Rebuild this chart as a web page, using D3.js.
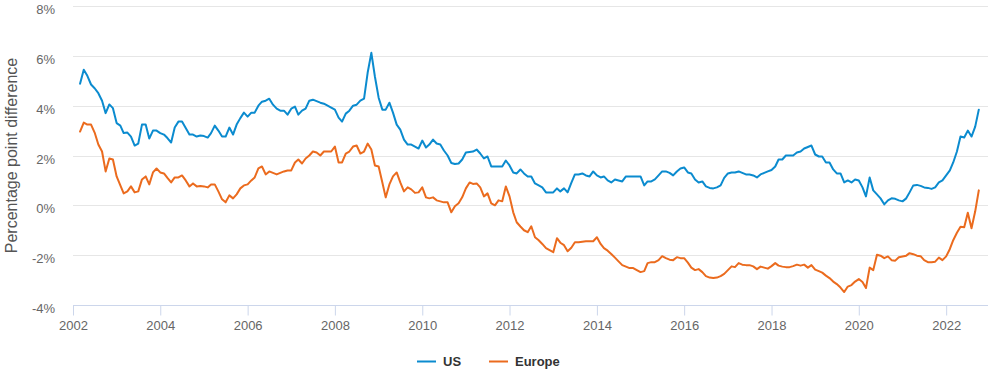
<!DOCTYPE html>
<html>
<head>
<meta charset="utf-8">
<script src="https://cdn.jsdelivr.net/npm/d3@7"></script>
<style>
  body { margin: 0; background: #fff; }
  text { font-family: "Liberation Sans", Arial, sans-serif; }
</style>
</head>
<body>
<div id="chart"></div>
<script>
// monthly series, first point March 2002, last point October 2022
var startYear = 2002, startMonth = 2; // 0-based month index (March)

var usValues = [
  4.88, 5.44, 5.2, 4.85, 4.7, 4.5, 4.2, 3.7, 4.05, 3.9,            // 2002 Mar-Dec
  3.3, 3.2, 2.9, 2.92, 2.76, 2.4, 2.48, 3.24, 3.24, 2.68, 3.0, 3.0, // 2003
  2.9, 2.84, 2.7, 2.52, 3.12, 3.36, 3.36, 3.1, 2.84, 2.84, 2.76, 2.8, // 2004
  2.78, 2.72, 2.9, 3.2, 3.0, 2.76, 2.76, 3.12, 2.84, 3.24, 3.5, 3.72, // 2005
  3.56, 3.72, 3.72, 4.0, 4.16, 4.2, 4.28, 4.04, 3.88, 3.8, 3.8, 3.64, // 2006
  3.88, 3.96, 3.64, 3.8, 3.88, 4.2, 4.24, 4.18, 4.12, 4.08, 4.0, 3.92, // 2007
  3.84, 3.52, 3.36, 3.68, 3.8, 4.0, 4.04, 4.2, 4.28, 5.32, 6.12, 5.16, // 2008
  4.32, 3.84, 3.84, 4.12, 3.72, 3.24, 3.04, 2.64, 2.44, 2.44, 2.36, 2.28, // 2009
  2.6, 2.32, 2.44, 2.64, 2.48, 2.44, 2.2, 2.0, 1.7, 1.66, 1.68, 1.84, // 2010
  2.12, 2.14, 2.16, 2.24, 2.08, 1.88, 1.96, 1.56, 1.56, 1.56, 1.56, 1.8, // 2011
  1.6, 1.32, 1.28, 1.44, 1.28, 1.16, 1.16, 0.88, 0.8, 0.72, 0.52, 0.52, // 2012
  0.52, 0.68, 0.56, 0.68, 0.52, 0.9, 1.24, 1.24, 1.28, 1.2, 1.16, 1.36, // 2013
  1.2, 1.12, 1.16, 1.0, 0.92, 1.04, 1.0, 0.96, 1.16, 1.16, 1.16, 1.16, // 2014
  1.16, 0.8, 0.96, 0.96, 1.04, 1.2, 1.36, 1.36, 1.3, 1.2, 1.36, 1.48, // 2015
  1.52, 1.32, 1.28, 1.04, 0.92, 0.96, 0.76, 0.7, 0.68, 0.72, 0.8, 1.1, // 2016
  1.28, 1.32, 1.32, 1.36, 1.3, 1.24, 1.24, 1.2, 1.12, 1.24, 1.3, 1.36, // 2017
  1.42, 1.56, 1.84, 1.84, 2.0, 2.0, 2.0, 2.12, 2.16, 2.28, 2.34, 2.4, // 2018
  2.04, 1.96, 1.96, 1.72, 1.72, 1.44, 1.28, 1.28, 0.92, 1.0, 0.92, 1.04, // 2019
  1.0, 0.72, 0.36, 1.12, 0.6, 0.44, 0.28, 0.04, 0.2, 0.28, 0.26, 0.2, // 2020
  0.16, 0.28, 0.52, 0.8, 0.82, 0.78, 0.72, 0.7, 0.66, 0.72, 0.92, 1.0, // 2021
  1.2, 1.4, 1.72, 2.16, 2.76, 2.72, 3.0, 2.76, 3.16, 3.84           // 2022 Jan-Oct
];

var europeValues = [
  2.96, 3.32, 3.24, 3.24, 2.92, 2.44, 2.16, 1.36, 1.88, 1.84,       // 2002 Mar-Dec
  1.16, 0.8, 0.48, 0.56, 0.76, 0.52, 0.56, 1.04, 1.16, 0.84, 1.32, 1.48, // 2003
  1.32, 1.28, 1.1, 0.92, 1.12, 1.12, 1.2, 1.0, 0.76, 0.88, 0.76, 0.78, // 2004
  0.76, 0.72, 0.84, 0.84, 0.56, 0.24, 0.12, 0.4, 0.28, 0.44, 0.68, 0.8, // 2005
  0.84, 1.0, 1.12, 1.48, 1.56, 1.24, 1.36, 1.3, 1.24, 1.3, 1.36, 1.4, // 2006
  1.4, 1.72, 1.84, 1.68, 1.88, 2.0, 2.16, 2.12, 2.0, 2.16, 2.16, 2.16, // 2007
  2.36, 1.72, 1.72, 2.08, 2.16, 2.36, 2.4, 2.08, 2.16, 2.48, 2.24, 1.6, // 2008
  1.56, 0.92, 0.32, 0.84, 1.16, 1.32, 0.92, 0.56, 0.72, 0.64, 0.5, 0.52, // 2009
  0.72, 0.32, 0.28, 0.32, 0.2, 0.16, 0.12, 0.12, -0.28, -0.04, 0.08, 0.32, // 2010
  0.68, 0.92, 0.86, 0.88, 0.72, 0.36, 0.48, 0.08, 0.0, 0.2, 0.16, 0.76, // 2011
  0.36, -0.28, -0.68, -0.85, -1.0, -1.08, -0.84, -1.28, -1.4, -1.55, -1.72, -1.8, // 2012
  -1.88, -1.32, -1.5, -1.6, -1.84, -1.7, -1.48, -1.48, -1.46, -1.44, -1.44, -1.44, // 2013
  -1.28, -1.55, -1.72, -1.82, -1.95, -2.1, -2.25, -2.4, -2.46, -2.52, -2.52, -2.6, // 2014
  -2.68, -2.64, -2.32, -2.28, -2.28, -2.2, -2.04, -2.12, -2.18, -2.2, -2.08, -2.12, // 2015
  -2.12, -2.3, -2.5, -2.6, -2.56, -2.68, -2.84, -2.9, -2.92, -2.9, -2.84, -2.75, // 2016
  -2.6, -2.45, -2.48, -2.32, -2.38, -2.4, -2.4, -2.45, -2.56, -2.46, -2.5, -2.54, // 2017
  -2.44, -2.32, -2.42, -2.46, -2.48, -2.48, -2.44, -2.38, -2.42, -2.38, -2.5, -2.4, // 2018
  -2.58, -2.64, -2.7, -2.82, -2.92, -3.06, -3.16, -3.3, -3.48, -3.26, -3.2, -3.06, // 2019
  -2.96, -3.08, -3.32, -2.5, -2.6, -1.98, -2.02, -2.12, -2.05, -2.2, -2.22, -2.08, // 2020
  -2.05, -2.02, -1.92, -1.96, -2.02, -2.04, -2.2, -2.28, -2.28, -2.26, -2.1, -2.2, // 2021
  -2.05, -1.75, -1.4, -1.1, -0.86, -0.88, -0.3, -0.92, -0.24, 0.6     // 2022 Jan-Oct
];

var seriesNames = ["US", "Europe"];
var seriesColors = ["#0b8bcf", "#eb6b1e"];
var yTicks = [-4, -2, 0, 2, 4, 6, 8];
var xTickYears = [2002, 2004, 2006, 2008, 2010, 2012, 2014, 2016, 2018, 2020, 2022];

var W = 988, H = 373;
var margin = {top: 6, right: 0, bottom: 68, left: 73};
var width = W - margin.left - margin.right,
    height = 305 - margin.top;

var svg = d3.select("#chart")
  .append("svg")
    .attr("width", W)
    .attr("height", H);

var g = svg.append("g")
  .attr("transform", "translate(" + margin.left + "," + margin.top + ")");

function monthDate(i) {
  return new Date(startYear, startMonth + i, 1);
}

var x = d3.scaleTime()
  .domain([new Date(2002, 0, 1), new Date(2022, 11, 17)])
  .range([0, width]);

var y = d3.scaleLinear()
  .domain([-4, 8])
  .range([height, 0]);

// grid lines
g.append("g")
  .selectAll("line")
  .data(yTicks)
  .enter().append("line")
    .attr("x1", 0)
    .attr("x2", width)
    .attr("y1", function(d) { return Math.round(y(d)) + 0.5; })
    .attr("y2", function(d) { return Math.round(y(d)) + 0.5; })
    .attr("stroke", "#e6e6e6")
    .attr("stroke-width", 1);

// y labels, sitting a little below their grid line
g.append("g")
  .selectAll("text")
  .data(yTicks)
  .enter().append("text")
    .attr("x", -18)
    .attr("y", function(d) { return y(d) + 8; })
    .attr("text-anchor", "end")
    .style("font-size", "13px")
    .style("fill", "#666")
    .text(function(d) { return d + "%"; });

// x axis
var xAxis = d3.axisBottom(x)
  .tickValues(xTickYears.map(function(yr) { return new Date(yr, 0, 1); }))
  .tickFormat(d3.timeFormat("%Y"))
  .tickSize(10)
  .tickPadding(5);

var xg = g.append("g")
  .attr("transform", "translate(0," + (Math.round(y(-4)) + 0.5) + ")")
  .call(xAxis);
xg.select(".domain").attr("stroke", "#ccd6eb").attr("d", "M0,0H" + width);
xg.selectAll(".tick line").attr("stroke", "#ccd6eb");
xg.selectAll(".tick text")
  .style("font-size", "13px")
  .style("fill", "#666")
  .style("font-family", "'Liberation Sans', Arial, sans-serif");

// y axis title
svg.append("text")
  .attr("transform", "translate(17," + (margin.top + height / 2) + ") rotate(-90)")
  .attr("text-anchor", "middle")
  .style("font-size", "16px")
  .style("fill", "#555")
  .text("Percentage point difference");

// lines
var line = d3.line()
  .x(function(d, i) { return x(monthDate(i)); })
  .y(function(d) { return y(d); });

[usValues, europeValues].forEach(function(vals, k) {
  g.append("path")
    .datum(vals)
    .attr("fill", "none")
    .attr("stroke", seriesColors[k])
    .attr("stroke-width", 2)
    .attr("stroke-linejoin", "round")
    .attr("stroke-linecap", "round")
    .attr("d", line);
});

// legend
var legendX = [417, 489];
var legend = svg.append("g");
seriesNames.forEach(function(name, k) {
  legend.append("line")
    .attr("x1", legendX[k]).attr("x2", legendX[k] + 19)
    .attr("y1", 361.5).attr("y2", 361.5)
    .attr("stroke", seriesColors[k])
    .attr("stroke-width", 2);
  legend.append("text")
    .attr("x", legendX[k] + 26)
    .attr("y", 366)
    .style("font-size", "13px")
    .style("font-weight", "bold")
    .style("fill", "#333")
    .text(name);
});
</script>
</body>
</html>
